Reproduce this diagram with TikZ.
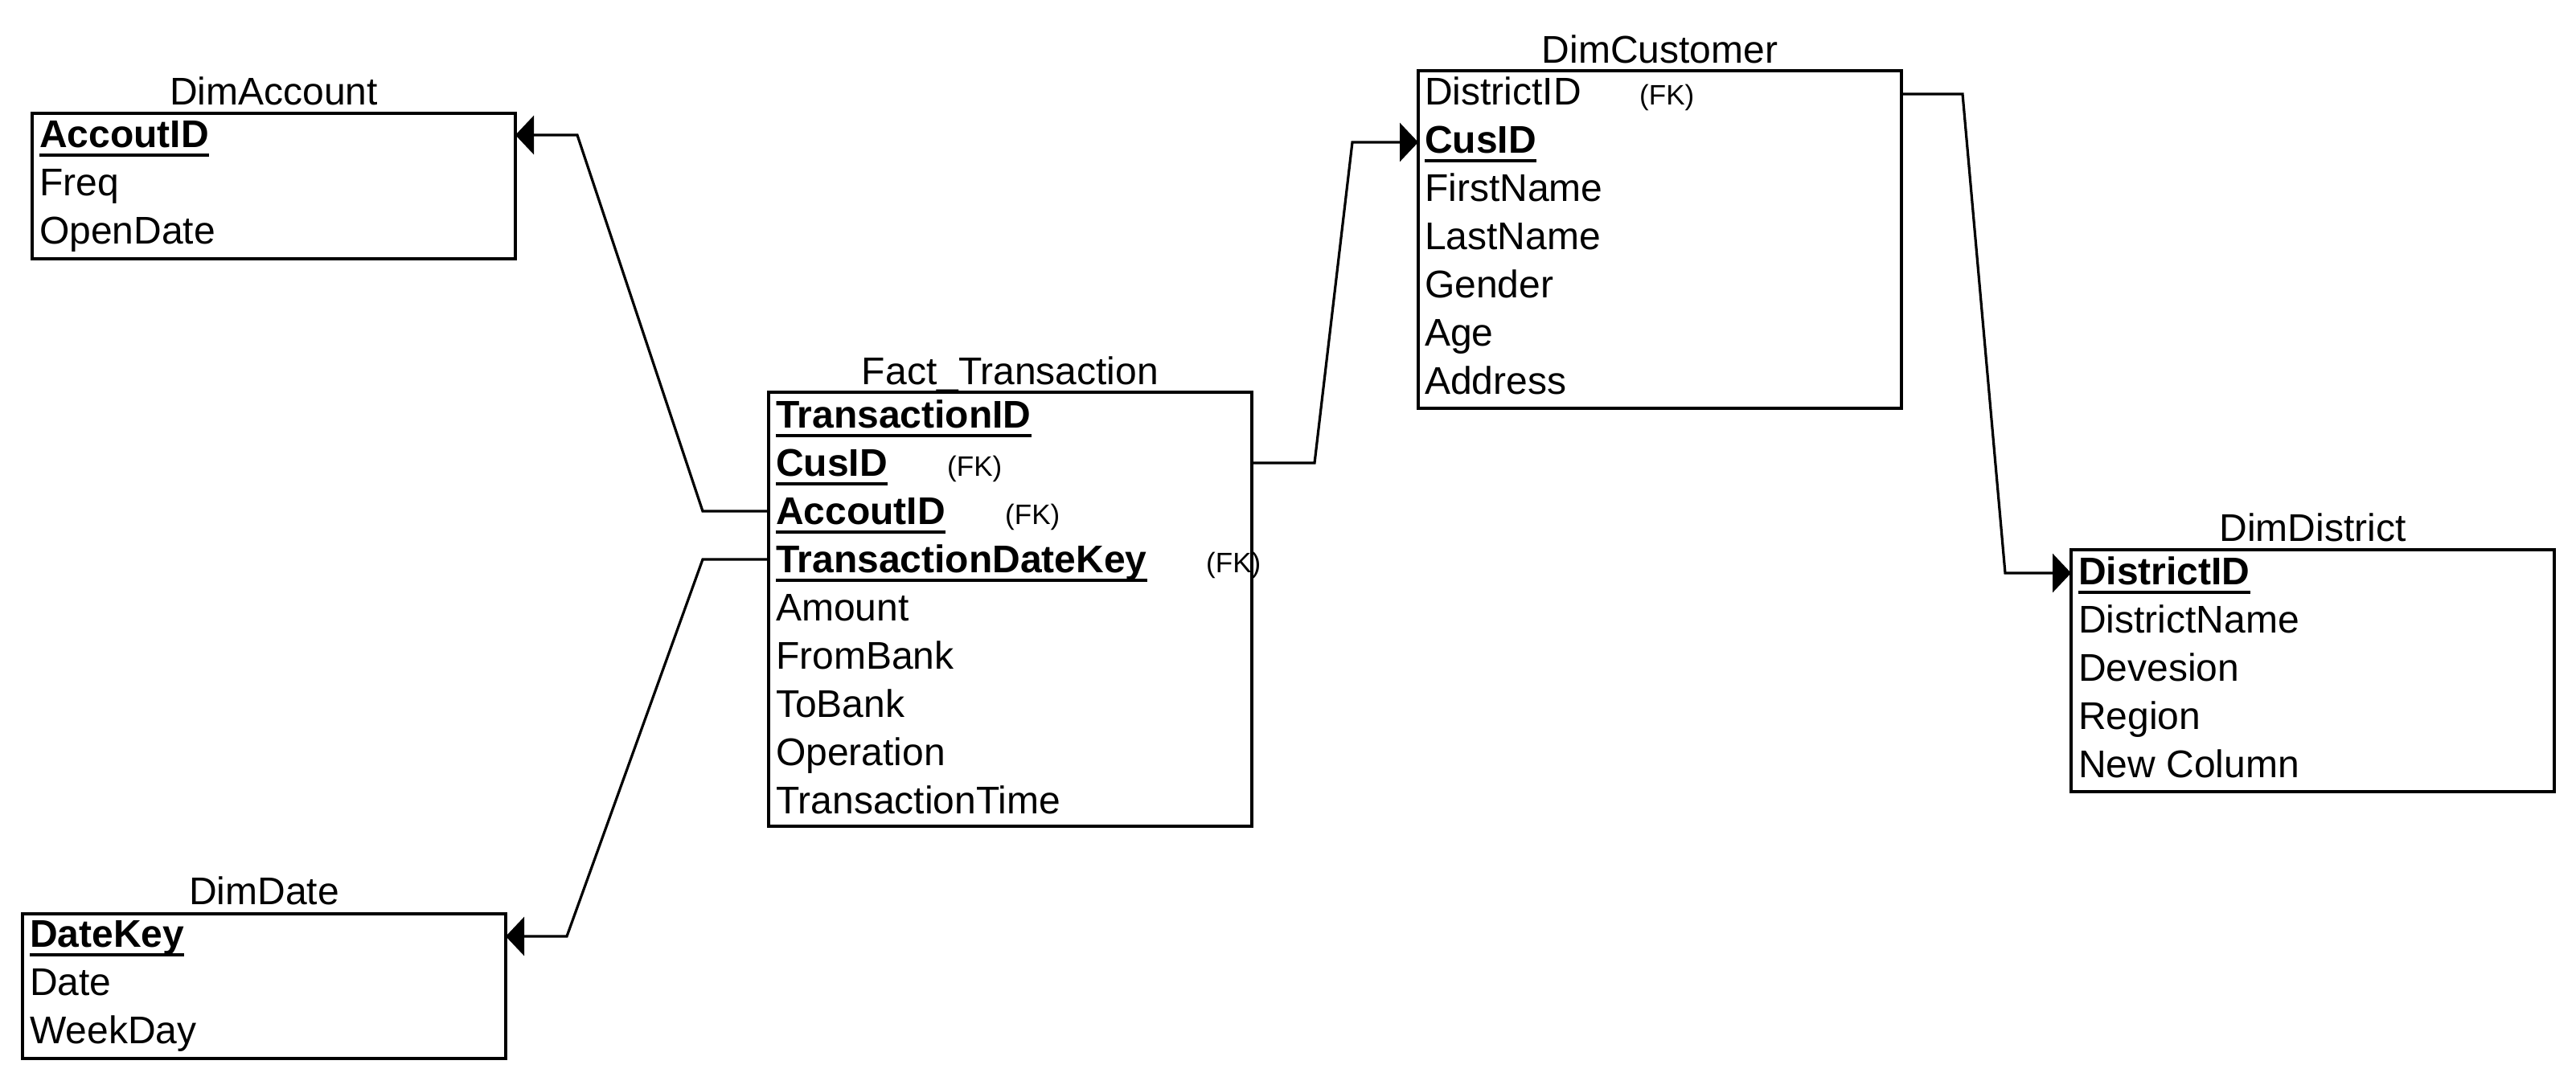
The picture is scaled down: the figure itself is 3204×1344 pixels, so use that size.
\documentclass[tikz,border=0pt]{standalone}
\usepackage{fontspec}
\setmainfont{Liberation Sans}
\usetikzlibrary{arrows.meta,calc}
\tikzset{
  tbl/.style={draw, line width=4pt, minimum width=601pt, anchor=north west, inner sep=0pt, outer sep=0pt},
  ttl/.style={anchor=base, inner sep=0pt, font=\fontsize{48}{57}\selectfont},
  fld/.style={anchor=base west, inner sep=0pt, font=\fontsize{48}{57}\selectfont},
  keyf/.style={anchor=base west, inner sep=0pt, font=\fontsize{48}{57}\selectfont\bfseries},
  fktxt/.style={anchor=base west, inner sep=0pt, font=\fontsize{35}{42}\selectfont},
  ul/.style={line width=4pt},
  rel/.style={line width=3.2pt, -{Triangle[length=23pt,width=48pt]}},
}
\begin{document}
\begin{tikzpicture}[x=1pt,y=-1pt]
\useasboundingbox[fill=white] (0,0) rectangle (3204,1344);

% ---------- DimAccount ----------
\node[tbl, minimum height=181pt] (acc) at (40,141) {};
\node[ttl] (accT) at (340.5,130) {DimAccount};
\node[keyf] (accR1) at (49,183) {AccoutID};
\node[fld]  (accR2) at (49,243) {Freq};
\node[fld]  (accR3) at (49,303) {OpenDate};
\draw[ul] ([yshift=-10pt]accR1.base west) -- ([yshift=-10pt]accR1.base east);
\coordinate (accR1c) at ([yshift=15pt]accR1.base);

% ---------- Fact_Transaction ----------
\node[tbl, minimum height=540pt] (fact) at (956,488) {};
\node[ttl] (factT) at (1256.5,478) {Fact\_Transaction};
\node[keyf] (fR1) at (965,532) {TransactionID};
\node[keyf] (fR2) at (965,592) {CusID};
\node[fktxt] (fFK2) at (1178,592) {(FK)};
\node[keyf] (fR3) at (965,652) {AccoutID};
\node[fktxt] (fFK3) at (1250,652) {(FK)};
\node[keyf] (fR4) at (965,712) {TransactionDateKey};
\node[fktxt] (fFK4) at (1500,712) {(FK)};
\node[fld] (fR5) at (965,772) {Amount};
\node[fld] (fR6) at (965,832) {FromBank};
\node[fld] (fR7) at (965,892) {ToBank};
\node[fld] (fR8) at (965,952) {Operation};
\node[fld] (fR9) at (965,1012) {TransactionTime};
\draw[ul] ([yshift=-10pt]fR1.base west) -- ([yshift=-10pt]fR1.base east);
\draw[ul] ([yshift=-10pt]fR2.base west) -- ([yshift=-10pt]fR2.base east);
\draw[ul] ([yshift=-10pt]fR3.base west) -- ([yshift=-10pt]fR3.base east);
\draw[ul] ([yshift=-10pt]fR4.base west) -- ([yshift=-10pt]fR4.base east);
\coordinate (fR2c) at ([yshift=16pt]fR2.base);
\coordinate (fR3c) at ([yshift=16pt]fR3.base);
\coordinate (fR4c) at ([yshift=16pt]fR4.base);

% ---------- DimCustomer ----------
\node[tbl, minimum height=420pt] (cus) at (1764,88) {};
\node[ttl] (cusT) at (2064.5,78) {DimCustomer};
\node[fld] (cR1) at (1772,130) {DistrictID};
\node[fktxt] (cFK1) at (2039,130) {(FK)};
\node[keyf] (cR2) at (1772,190) {CusID};
\node[fld] (cR3) at (1772,250) {FirstName};
\node[fld] (cR4) at (1772,310) {LastName};
\node[fld] (cR5) at (1772,370) {Gender};
\node[fld] (cR6) at (1772,430) {Age};
\node[fld] (cR7) at (1772,490) {Address};
\draw[ul] ([yshift=-10pt]cR2.base west) -- ([yshift=-10pt]cR2.base east);
\coordinate (cR1c) at ([yshift=13pt]cR1.base);
\coordinate (cR2c) at ([yshift=13pt]cR2.base);

% ---------- DimDistrict ----------
\node[tbl, minimum height=301pt] (dis) at (2576,684) {};
\node[ttl] (disT) at (2876.5,673) {DimDistrict};
\node[keyf] (sR1) at (2585,727) {DistrictID};
\node[fld] (sR2) at (2585,787) {DistrictName};
\node[fld] (sR3) at (2585,847) {Devesion};
\node[fld] (sR4) at (2585,907) {Region};
\node[fld] (sR5) at (2585,967) {New Column};
\draw[ul] ([yshift=-10pt]sR1.base west) -- ([yshift=-10pt]sR1.base east);
\coordinate (sR1c) at ([yshift=14pt]sR1.base);

% ---------- DimDate ----------
\node[tbl, minimum height=180pt] (date) at (28,1137) {};
\node[ttl] (dateT) at (328.5,1125) {DimDate};
\node[keyf] (dR1) at (37,1178) {DateKey};
\node[fld] (dR2) at (37,1238) {Date};
\node[fld] (dR3) at (37,1298) {WeekDay};
\draw[ul] ([yshift=-10pt]dR1.base west) -- ([yshift=-10pt]dR1.base east);
\coordinate (dR1c) at ([yshift=13pt]dR1.base);

% ---------- Relationships ----------
\draw[rel] (fact.west |- fR3c) -- ++(-82,0) -- ($(acc.east |- accR1c)+(77,0)$) -- (acc.east |- accR1c);
\draw[rel] (fact.west |- fR4c) -- ++(-82,0) -- ($(date.east |- dR1c)+(76,0)$) -- (date.east |- dR1c);
\draw[rel] (fact.east |- fR2c) -- ++(78,0) -- ($(cus.west |- cR2c)+(-82,0)$) -- (cus.west |- cR2c);
\draw[rel] (cus.east |- cR1c) -- ++(76,0) -- ($(dis.west |- sR1c)+(-82,0)$) -- (dis.west |- sR1c);
\end{tikzpicture}
\end{document}
